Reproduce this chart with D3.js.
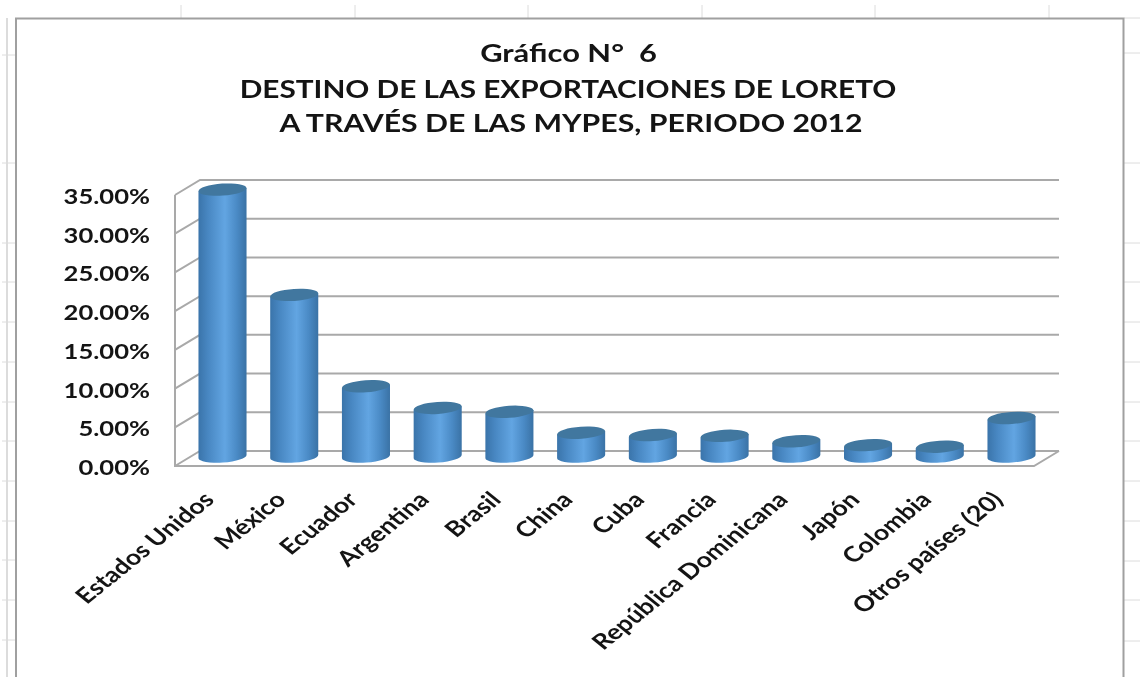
<!DOCTYPE html>
<html><head><meta charset="utf-8"><script src="https://cdn.jsdelivr.net/npm/d3@7"></script>
<style>html,body{margin:0;background:#fff}svg{display:block;filter:blur(.5px)}text{font-family:Lato,"Open Sans",sans-serif;font-weight:700;fill:#141414}</style></head><body><div id="c"></div>
<script>
const categories=["Estados Unidos","México","Ecuador","Argentina","Brasil","China","Cuba","Francia","República Dominicana","Japón","Colombia","Otros países (20)"];
const values=[34.6,21.0,9.2,6.4,5.9,3.2,2.9,2.8,2.1,1.6,1.4,5.1];
const yTicks=[0,5,10,15,20,25,30,35];
const titleLines=["Gráfico N°  6","DESTINO DE LAS EXPORTACIONES DE LORETO","A TRAVÉS DE LAS MYPES, PERIODO 2012"];
const W=1140,H=677,dx=25,dy=-15;
const svg=d3.select("#c").append("svg").attr("width",W).attr("height",H);
const defs=svg.append("defs");
const g=defs.append("linearGradient").attr("id","cyl");
[[0,"#3a74aa"],[.2,"#4887c2"],[.55,"#62a5e2"],[.8,"#4a8ac5"],[1,"#3a72a5"]].forEach(s=>g.append("stop").attr("offset",s[0]).attr("stop-color",s[1]));
// sheet background ticks
const sheet=svg.append("g").attr("stroke","#dcdcdc").attr("fill","none");
[181,355,528,702,875,1049].forEach(x=>sheet.append("line").attr("x1",x).attr("x2",x).attr("y1",5).attr("y2",18));
[55,163,243,282,322,362,402,441,481,521,560,600,640].forEach(y=>{sheet.append("line").attr("x1",2).attr("x2",16).attr("y1",y).attr("y2",y);});
[18,53,163,243,282,322,362,402,441,481,521,561,600,641].forEach(y=>{sheet.append("line").attr("x1",1124).attr("x2",1140).attr("y1",y).attr("y2",y);});
sheet.append("line").attr("x1",7).attr("x2",7).attr("y1",18).attr("y2",677).attr("stroke-width",2);
svg.append("path").attr("d",`M16 ${H}V18.5H1123.5V${H}`).attr("fill","none").attr("stroke","#a0a0a0").attr("stroke-width",2);
// title
const ty=[62,98,132],tx=[568.5,568,571],ts=[1.26,1.215,1.235];
titleLines.forEach((t,i)=>svg.append("text").attr("transform",`translate(${tx[i]},${ty[i]}) scale(${ts[i]},1)`).attr("text-anchor","middle").attr("font-size",24.5).style("white-space","pre").text(t));
// scales
const y=d3.scaleLinear().domain([0,35]).range([466,195]);
const x=d3.scaleBand().domain(categories).range([187,1047]).paddingInner(0.33).paddingOuter(0.16);
// wall grid
const grid=svg.append("g").attr("fill","none").attr("stroke","#a9a9a9").attr("stroke-width",2);
yTicks.forEach(v=>{
  const p=y(v);
  grid.append("path").attr("d",`M175 ${p}L${175+dx} ${p+dy}H1059`);
});
grid.append("path").attr("d",`M175 195V466H1034L1059 451`);
// y labels
svg.append("g").selectAll("text").data(yTicks).join("text").attr("transform",d=>`translate(150,${y(d)+9}) scale(1.28,1)`).attr("text-anchor","end").attr("font-size",20).text(d=>d.toFixed(2)+"%");
// cylinders
const bw=x.bandwidth(),ry=6,base=v=>y(v)-8.5,tilt=1.7;
const bars=svg.append("g").selectAll("g").data(categories).join("g");
bars.append("path").attr("fill","url(#cyl)").attr("d",(c,i)=>{
  const l=x(c),r=l+bw,t=base(values[i]),b=base(0)-1;
  return `M${l} ${t+tilt}V${b+tilt}A${bw/2} ${ry} -4 0 0 ${r} ${b-tilt}V${t-tilt}Z`;
});
bars.append("ellipse").attr("fill","#41779f").attr("rx",bw/2).attr("ry",ry)
 .attr("transform",(c,i)=>`translate(${x(c)+bw/2},${base(values[i])}) rotate(-4)`);
// x labels
svg.append("g").selectAll("text").data(categories).join("text").attr("text-anchor","end").attr("font-size",21.5)
 .attr("transform",c=>`translate(${x(c)+bw/2-7},${501}) scale(1.24,1) rotate(-45)`).text(c=>c);
</script></body></html>
